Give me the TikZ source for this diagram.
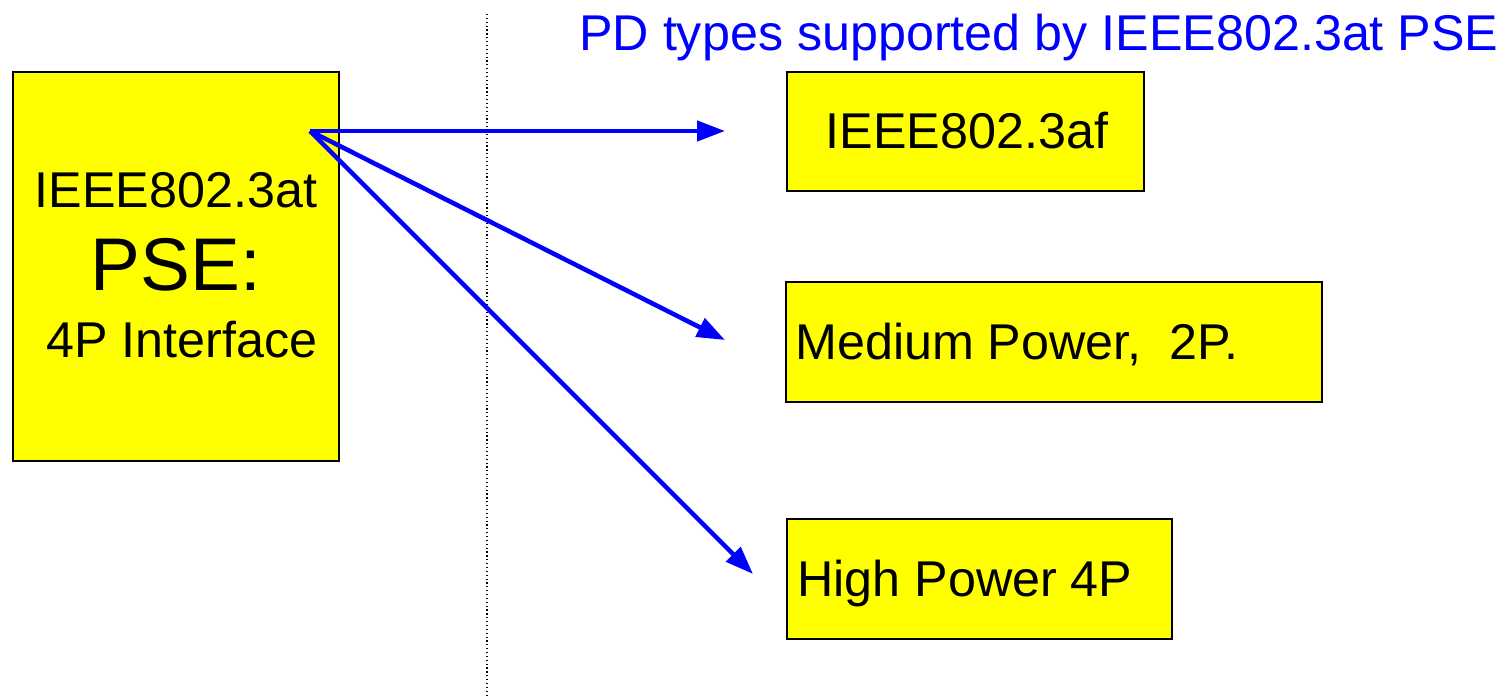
\documentclass[tikz,border=0pt]{standalone}
\usepackage{fontspec}
\setmainfont{Liberation Sans}
\usetikzlibrary{arrows.meta}
\definecolor{boxyellow}{RGB}{255,255,0}
\definecolor{arrowblue}{RGB}{0,0,255}
\tikzset{
  ybox/.style={draw=black, line width=0.9pt, fill=boxyellow},
  conn/.style={draw=arrowblue, line width=3.4pt, -{Triangle[length=21pt,width=15pt]}},
  big/.style={font=\fontsize{37.7}{45}\selectfont},
}
\begin{document}
\begin{tikzpicture}[x=0.75pt,y=-0.75pt]
\useasboundingbox (0,0) rectangle (1506,696);
% left box
\draw[ybox] (13,72) rectangle (339,461);
\node[big, anchor=base] (t1) at (176,207) {IEEE802.3at};
\node[font=\fontsize{56}{64}\selectfont, anchor=base] (t2) at (176,290) {PSE:};
\node[big, anchor=base] (t3) at (182,357) {4P Interface};
% dotted divider
\coordinate (dtop) at (487,14);
\coordinate (dbot) at (487,696);
\draw[black, line width=0.9pt, dotted] (dtop) -- (dbot);
% title
\node[big, text=arrowblue, anchor=base west, inner sep=0pt] (title) at (579,50) {PD types supported by IEEE802.3at PSE};
% right boxes
\draw[ybox] (787,72) rectangle (1144,191);
\node[big, anchor=base] (b1) at (967,148) {IEEE802.3af};
\draw[ybox] (786,282) rectangle (1322,402);
\node[big, anchor=base west, inner sep=0pt] (b2) at (795,359) {Medium Power,\ \ 2P.};
\draw[ybox] (787,519) rectangle (1172,639);
\node[big, anchor=base west, inner sep=0pt] (b3) at (797,596) {High Power 4P};
% arrows
\coordinate (src) at (310,131);
\coordinate (e1) at (725,131);
\coordinate (e2) at (725,340);
\coordinate (e3) at (753,574);
\draw[conn] (src) -- (e1);
\draw[conn] (src) -- (e2);
\draw[conn] (src) -- (e3);
\end{tikzpicture}
\end{document}
